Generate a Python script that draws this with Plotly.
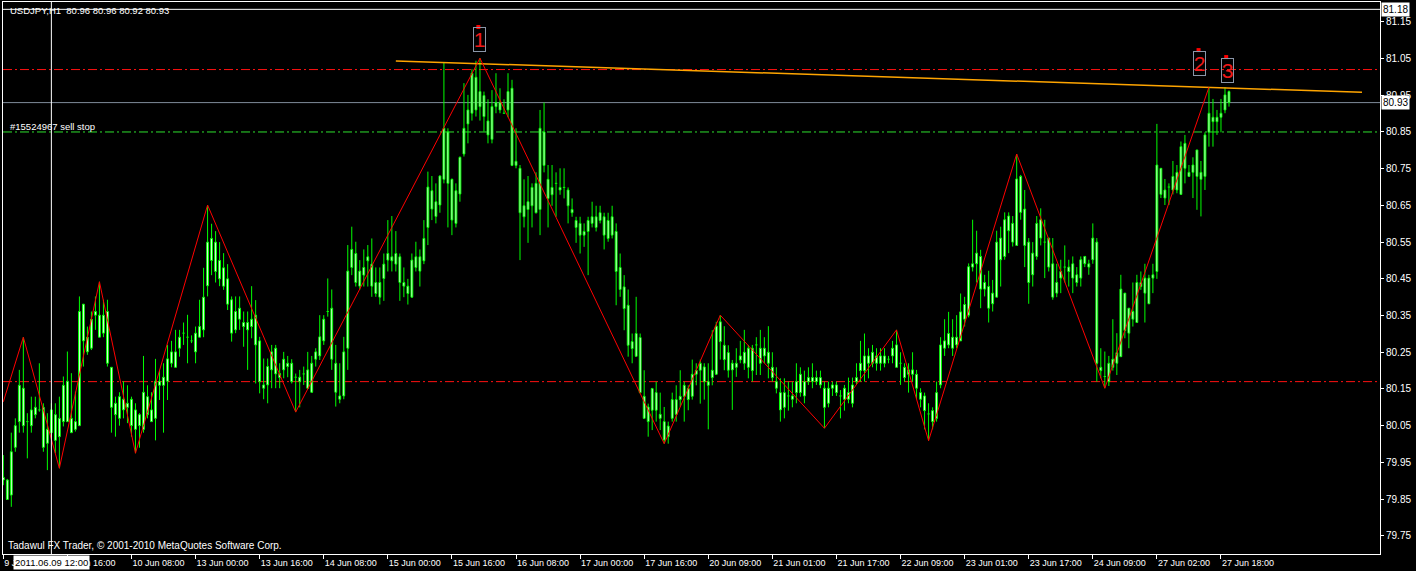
import plotly.graph_objects as go

# ---------------- data (H1 bars, index 0 = 9 Jun 00:00) ----------------
opens = [
 79.902, 79.849, 79.861, 79.991, 80.061, 80.050, 80.061, 80.093, 80.100, 80.093,
 80.100, 80.040, 80.093, 80.080, 80.070, 80.061, 80.061, 80.031, 80.040, 80.050,
 80.281, 80.251, 80.261, 80.351, 80.291, 80.351, 80.361, 80.209, 80.111, 80.129,
 80.122, 80.111, 80.122, 80.093, 80.050, 80.040, 80.080, 80.061, 80.070, 80.160,
 80.160, 80.171, 80.220, 80.209, 80.261, 80.302, 80.291, 80.281, 80.251, 80.291,
 80.311, 80.431, 80.560, 80.550, 80.500, 80.480, 80.450, 80.393, 80.361, 80.370,
 80.331, 80.331, 80.340, 80.351, 80.281, 80.161, 80.211, 80.251, 80.261, 80.192,
 80.231, 80.220, 80.220, 80.182, 80.170, 80.191, 80.152, 80.141, 80.231, 80.240,
 80.281, 80.361, 80.231, 80.141, 80.122, 80.131, 80.261, 80.481, 80.440, 80.430,
 80.460, 80.499, 80.430, 80.410, 80.400, 80.451, 80.501, 80.499, 80.490, 80.440,
 80.430, 80.410, 80.400, 80.481, 80.471, 80.499, 80.590, 80.640, 80.620, 80.651,
 80.721, 80.710, 80.610, 80.601, 80.681, 80.790, 80.872, 80.901, 80.910, 80.919,
 80.949, 80.880, 80.919, 80.930, 80.930, 80.901, 80.960, 80.969, 80.770, 80.751,
 80.649, 80.660, 80.699, 80.710, 80.860, 80.850, 80.721, 80.699, 80.710, 80.699,
 80.699, 80.692, 80.639, 80.609, 80.601, 80.579, 80.609, 80.619, 80.619, 80.630,
 80.619, 80.609, 80.619, 80.579, 80.481, 80.428, 80.378, 80.279, 80.301, 80.290,
 80.130, 80.101, 80.151, 80.140, 80.081, 80.061, 80.020, 80.070, 80.081, 80.121,
 80.130, 80.121, 80.130, 80.190, 80.201, 80.170, 80.160, 80.181, 80.190, 80.279,
 80.269, 80.249, 80.220, 80.220, 80.240, 80.250, 80.261, 80.261, 80.270, 80.261,
 80.261, 80.250, 80.209, 80.170, 80.140, 80.140, 80.131, 80.131, 80.170, 80.190,
 80.170, 80.181, 80.181, 80.181, 80.181, 80.152, 80.111, 80.152, 80.140, 80.131,
 80.122, 80.122, 80.111, 80.170, 80.200, 80.200, 80.220, 80.220, 80.220, 80.220,
 80.220, 80.231, 80.240, 80.209, 80.220, 80.209, 80.202, 80.202, 80.190, 80.140,
 80.131, 80.082, 80.061, 80.070, 80.161, 80.261, 80.270, 80.261, 80.270, 80.281,
 80.340, 80.351, 80.482, 80.491, 80.422, 80.422, 80.370, 80.382, 80.400, 80.502,
 80.511, 80.581, 80.550, 80.541, 80.729, 80.640, 80.550, 80.520, 80.601, 80.611,
 80.550, 80.561, 80.491, 80.440, 80.470, 80.482, 80.482, 80.491, 80.461, 80.502,
 80.511, 80.491, 80.561, 80.550, 80.209, 80.184, 80.170, 80.209, 80.220, 80.238,
 80.309, 80.302, 80.340, 80.331, 80.429, 80.411, 80.382, 80.452, 80.470, 80.680,
 80.670, 80.700, 80.692, 80.692, 80.680, 80.751, 80.729, 80.740, 80.729, 80.721,
 80.729, 80.849, 80.878, 80.878, 80.890, 80.910, 80.960]

highs = [
 79.970, 79.905, 80.031, 80.070, 80.202, 80.291, 80.084, 80.129, 80.129, 80.220,
 80.111, 80.084, 80.111, 80.111, 80.129, 80.184, 80.252, 80.193, 80.143, 80.402,
 80.381, 80.320, 80.361, 80.402, 80.442, 80.393, 80.393, 80.209, 80.129, 80.141,
 80.171, 80.160, 80.129, 80.111, 80.084, 80.240, 80.160, 80.141, 80.232, 80.202,
 80.220, 80.270, 80.281, 80.311, 80.311, 80.331, 80.352, 80.296, 80.320, 80.393,
 80.480, 80.651, 80.600, 80.580, 80.550, 80.520, 80.490, 80.402, 80.402, 80.402,
 80.361, 80.361, 80.430, 80.392, 80.292, 80.233, 80.233, 80.270, 80.270, 80.220,
 80.251, 80.240, 80.231, 80.192, 80.202, 80.211, 80.251, 80.240, 80.261, 80.351,
 80.351, 80.451, 80.421, 80.270, 80.220, 80.292, 80.542, 80.592, 80.551, 80.501,
 80.530, 80.542, 80.560, 80.481, 80.481, 80.519, 80.610, 80.621, 80.580, 80.519,
 80.481, 80.450, 80.519, 80.551, 80.530, 80.610, 80.742, 80.730, 80.710, 80.732,
 81.040, 80.860, 80.723, 80.710, 80.783, 80.983, 80.951, 81.021, 81.044, 81.051,
 80.960, 80.939, 80.964, 81.010, 80.969, 80.939, 81.010, 80.992, 80.860, 80.760,
 80.721, 80.730, 80.710, 80.740, 80.910, 80.930, 80.760, 80.760, 80.740, 80.751,
 80.751, 80.699, 80.669, 80.619, 80.619, 80.601, 80.619, 80.660, 80.649, 80.649,
 80.630, 80.630, 80.649, 80.601, 80.519, 80.460, 80.421, 80.301, 80.401, 80.301,
 80.201, 80.110, 80.153, 80.170, 80.140, 80.101, 80.061, 80.140, 80.160, 80.201,
 80.170, 80.160, 80.230, 80.220, 80.230, 80.220, 80.220, 80.310, 80.333, 80.351,
 80.321, 80.269, 80.229, 80.261, 80.281, 80.311, 80.270, 80.270, 80.291, 80.311,
 80.291, 80.321, 80.250, 80.209, 80.179, 80.179, 80.170, 80.170, 80.220, 80.209,
 80.200, 80.209, 80.220, 80.200, 80.200, 80.170, 80.170, 80.170, 80.170, 80.147,
 80.161, 80.181, 80.181, 80.220, 80.281, 80.301, 80.261, 80.270, 80.261, 80.261,
 80.261, 80.240, 80.281, 80.311, 80.250, 80.220, 80.220, 80.250, 80.202, 80.152,
 80.140, 80.111, 80.100, 80.170, 80.291, 80.340, 80.360, 80.340, 80.351, 80.410,
 80.401, 80.492, 80.611, 80.581, 80.529, 80.461, 80.472, 80.447, 80.581, 80.592,
 80.631, 80.631, 80.621, 80.790, 80.733, 80.692, 80.561, 80.550, 80.621, 80.642,
 80.611, 80.561, 80.561, 80.491, 80.502, 80.541, 80.502, 80.511, 80.482, 80.511,
 80.511, 80.502, 80.601, 80.561, 80.261, 80.252, 80.240, 80.340, 80.302, 80.461,
 80.411, 80.370, 80.440, 80.461, 80.470, 80.491, 80.461, 80.491, 80.872, 80.751,
 80.722, 80.710, 80.771, 80.760, 80.824, 80.842, 80.760, 80.781, 80.801, 80.771,
 80.849, 80.972, 80.940, 80.910, 80.940, 80.972, 80.963]

lows = [
 79.888, 79.848, 79.829, 79.979, 80.031, 80.031, 79.961, 80.031, 80.070, 80.088,
 79.979, 79.929, 80.011, 79.975, 79.934, 80.048, 80.061, 80.030, 80.034, 80.050,
 80.211, 80.243, 80.256, 80.311, 80.291, 80.291, 80.211, 80.031, 80.020, 80.050,
 80.070, 80.057, 80.020, 79.975, 79.990, 80.031, 80.070, 80.061, 80.010, 80.120,
 80.031, 80.120, 80.209, 80.209, 80.238, 80.270, 80.220, 80.275, 80.220, 80.291,
 80.291, 80.402, 80.460, 80.440, 80.430, 80.420, 80.365, 80.279, 80.302, 80.311,
 80.265, 80.202, 80.288, 80.165, 80.138, 80.122, 80.111, 80.152, 80.152, 80.152,
 80.179, 80.182, 80.165, 80.087, 80.100, 80.161, 80.150, 80.139, 80.211, 80.229,
 80.270, 80.347, 80.202, 80.102, 80.111, 80.122, 80.202, 80.460, 80.429, 80.420,
 80.429, 80.429, 80.401, 80.401, 80.380, 80.390, 80.470, 80.470, 80.470, 80.390,
 80.400, 80.380, 80.398, 80.470, 80.429, 80.490, 80.542, 80.610, 80.601, 80.630,
 80.710, 80.590, 80.569, 80.590, 80.660, 80.783, 80.819, 80.881, 80.892, 80.881,
 80.851, 80.819, 80.819, 80.901, 80.901, 80.899, 80.890, 80.757, 80.751, 80.501,
 80.590, 80.548, 80.590, 80.628, 80.569, 80.740, 80.590, 80.649, 80.619, 80.679,
 80.669, 80.601, 80.619, 80.548, 80.519, 80.537, 80.460, 80.590, 80.579, 80.601,
 80.530, 80.551, 80.560, 80.378, 80.401, 80.310, 80.238, 80.220, 80.237, 80.138,
 80.068, 80.020, 80.038, 80.061, 80.038, 80.001, 80.001, 80.061, 80.061, 80.101,
 80.061, 80.092, 80.121, 80.160, 80.110, 80.121, 80.040, 80.160, 80.188, 80.230,
 80.201, 80.181, 80.093, 80.183, 80.220, 80.202, 80.179, 80.170, 80.188, 80.188,
 80.220, 80.179, 80.170, 80.138, 80.061, 80.070, 80.091, 80.100, 80.111, 80.129,
 80.111, 80.161, 80.152, 80.161, 80.152, 80.043, 80.100, 80.131, 80.131, 80.070,
 80.091, 80.111, 80.100, 80.161, 80.170, 80.170, 80.179, 80.209, 80.200, 80.200,
 80.209, 80.220, 80.220, 80.209, 80.161, 80.170, 80.140, 80.170, 80.122, 80.100,
 80.040, 80.009, 80.040, 80.061, 80.152, 80.240, 80.261, 80.240, 80.261, 80.281,
 80.320, 80.345, 80.470, 80.440, 80.370, 80.402, 80.331, 80.361, 80.400, 80.429,
 80.502, 80.520, 80.538, 80.541, 80.611, 80.482, 80.382, 80.429, 80.502, 80.541,
 80.452, 80.470, 80.393, 80.400, 80.411, 80.440, 80.429, 80.411, 80.429, 80.429,
 80.482, 80.461, 80.491, 80.170, 80.179, 80.152, 80.158, 80.200, 80.188, 80.238,
 80.288, 80.261, 80.320, 80.331, 80.420, 80.331, 80.382, 80.411, 80.450, 80.670,
 80.651, 80.651, 80.680, 80.683, 80.680, 80.710, 80.729, 80.670, 80.638, 80.620,
 80.692, 80.810, 80.810, 80.842, 80.849, 80.901, 80.919]

closes = [
 79.909, 79.902, 79.979, 80.050, 80.160, 80.152, 80.061, 80.050, 80.080, 80.093,
 79.991, 80.002, 80.031, 80.010, 80.020, 80.160, 80.171, 80.070, 80.061, 80.361,
 80.381, 80.291, 80.340, 80.361, 80.351, 80.302, 80.220, 80.100, 80.080, 80.070,
 80.093, 80.100, 80.050, 80.040, 80.080, 80.141, 80.129, 80.093, 80.171, 80.171,
 80.182, 80.232, 80.251, 80.251, 80.291, 80.302, 80.291, 80.281, 80.302, 80.320,
 80.400, 80.550, 80.500, 80.470, 80.450, 80.430, 80.381, 80.302, 80.311, 80.340,
 80.320, 80.311, 80.320, 80.270, 80.170, 80.152, 80.161, 80.202, 80.191, 80.181,
 80.202, 80.211, 80.170, 80.182, 80.182, 80.191, 80.202, 80.220, 80.251, 80.292,
 80.340, 80.361, 80.370, 80.220, 80.131, 80.251, 80.471, 80.530, 80.519, 80.471,
 80.481, 80.510, 80.490, 80.440, 80.440, 80.490, 80.519, 80.510, 80.519, 80.510,
 80.440, 80.430, 80.501, 80.510, 80.510, 80.560, 80.700, 80.690, 80.660, 80.730,
 80.860, 80.850, 80.721, 80.690, 80.781, 80.860, 80.910, 81.010, 80.999, 80.960,
 80.892, 80.842, 80.830, 80.919, 80.910, 80.901, 80.910, 80.759, 80.759, 80.630,
 80.619, 80.639, 80.649, 80.630, 80.639, 80.759, 80.669, 80.679, 80.710, 80.692,
 80.699, 80.649, 80.630, 80.590, 80.569, 80.569, 80.579, 80.601, 80.590, 80.609,
 80.569, 80.560, 80.569, 80.470, 80.421, 80.369, 80.269, 80.260, 80.239, 80.140,
 80.070, 80.061, 80.092, 80.092, 80.070, 80.011, 80.049, 80.121, 80.121, 80.130,
 80.160, 80.151, 80.190, 80.201, 80.220, 80.210, 80.170, 80.201, 80.321, 80.333,
 80.230, 80.201, 80.202, 80.209, 80.229, 80.220, 80.209, 80.200, 80.270, 80.220,
 80.240, 80.220, 80.181, 80.152, 80.093, 80.100, 80.131, 80.122, 80.140, 80.140,
 80.131, 80.170, 80.170, 80.170, 80.161, 80.100, 80.152, 80.161, 80.161, 80.131,
 80.152, 80.140, 80.161, 80.181, 80.220, 80.240, 80.240, 80.250, 80.240, 80.240,
 80.240, 80.231, 80.261, 80.270, 80.220, 80.181, 80.190, 80.190, 80.152, 80.122,
 80.091, 80.082, 80.091, 80.140, 80.270, 80.281, 80.301, 80.291, 80.291, 80.360,
 80.380, 80.483, 80.491, 80.520, 80.511, 80.440, 80.429, 80.411, 80.550, 80.561,
 80.611, 80.621, 80.601, 80.722, 80.631, 80.541, 80.440, 80.461, 80.511, 80.561,
 80.550, 80.482, 80.400, 80.411, 80.452, 80.482, 80.470, 80.452, 80.440, 80.452,
 80.491, 80.482, 80.502, 80.220, 80.200, 80.184, 80.220, 80.231, 80.249, 80.422,
 80.411, 80.370, 80.361, 80.440, 80.440, 80.452, 80.452, 80.461, 80.760, 80.751,
 80.692, 80.700, 80.729, 80.740, 80.810, 80.819, 80.740, 80.760, 80.801, 80.740,
 80.842, 80.901, 80.890, 80.890, 80.901, 80.951, 80.930]

# ZigZag vertices (bar index, price)
zz_bar = [0, 5, 14, 24, 33, 51, 73, 119, 165, 179, 205, 223, 231, 253, 275, 301]
zz_price = [80.115, 80.291, 79.934, 80.442, 79.975, 80.651, 80.087, 81.051,
            80.001, 80.351, 80.043, 80.311, 80.009, 80.790, 80.152, 80.972]

# Trend line (orange)
trend_bar = [98, 339.2]
trend_price = [81.0435, 80.958]

# Horizontal levels
alert_levels = [81.02, 80.17]
sell_stop_level = 80.85
bid_price = 80.93
cross_bar = 12
cross_price = 81.184

# Text labels 1/2/3
lbl_text = ["1", "2", "3"]
lbl_bar = [118.9, 298.6, 305.6]
lbl_price = [81.101, 81.037, 81.018]
lbl_dot_bar = [118.6, 298.4, 305.3]
lbl_dot_price = [81.136, 81.073, 81.054]

# Axis ticks
tick_bars = list(range(0, 305, 16))
tick_labels = ["9 Jun 00:00", "9 Jun 16:00", "10 Jun 08:00", "13 Jun 00:00", "13 Jun 16:00",
               "14 Jun 08:00", "15 Jun 00:00", "15 Jun 16:00", "16 Jun 08:00", "17 Jun 00:00",
               "17 Jun 16:00", "20 Jun 09:00", "21 Jun 01:00", "21 Jun 17:00", "22 Jun 09:00",
               "23 Jun 01:00", "23 Jun 17:00", "24 Jun 09:00", "27 Jun 02:00", "27 Jun 18:00"]
price_ticks = [79.75, 79.85, 79.95, 80.05, 80.15, 80.25, 80.35, 80.45, 80.55, 80.65,
               80.75, 80.85, 80.95, 81.05, 81.15]

# ---------------- build figure ----------------
GREEN = "#00FF00"
FONT = "Liberation Sans, Arial, sans-serif"

bx, bbase, bh = [], [], []
dx, dy = [], []
wx, wy = [], []
for j, (o, h, l, c) in enumerate(zip(opens, highs, lows, closes)):
    top, bot = max(o, c), min(o, c)
    if top - bot < 0.003:
        dx += [j - 0.3, j + 0.3, None]
        dy += [c, c, None]
    else:
        bx.append(j)
        bbase.append(bot)
        bh.append(top - bot)
    if h > top:
        wx += [j, j, None]
        wy += [top, h, None]
    if l < bot:
        wx += [j, j, None]
        wy += [bot, l, None]

fig = go.Figure()
fig.add_trace(go.Bar(x=bx, y=bh, base=bbase, width=0.45,
                     marker=dict(color="white", line=dict(color=GREEN, width=1)),
                     hoverinfo="skip"))
fig.add_trace(go.Scatter(x=wx, y=wy, mode="lines", line=dict(color=GREEN, width=1),
                         hoverinfo="skip"))
fig.add_trace(go.Scatter(x=dx, y=dy, mode="lines", line=dict(color=GREEN, width=1),
                         hoverinfo="skip"))
fig.add_trace(go.Scatter(x=trend_bar, y=trend_price, mode="lines",
                         line=dict(color="#FFA500", width=1.5), hoverinfo="skip"))
fig.add_trace(go.Scatter(x=zz_bar, y=zz_price, mode="lines",
                         line=dict(color="#FF0000", width=1), hoverinfo="skip"))
fig.add_trace(go.Scatter(x=lbl_dot_bar, y=lbl_dot_price, mode="markers",
                         marker=dict(symbol="square", size=4, color="#FF0000"),
                         hoverinfo="skip"))

shapes = []
for lv in alert_levels:
    shapes.append(dict(type="line", xref="paper", x0=0, x1=1, yref="y", y0=lv, y1=lv,
                       line=dict(color="#FF1010", width=1, dash="9px,3px,2px,3px"), layer="below"))
shapes.append(dict(type="line", xref="paper", x0=0, x1=1, yref="y", y0=sell_stop_level,
                   y1=sell_stop_level,
                   line=dict(color="#2EE02E", width=1, dash="9px,3px,2px,3px"), layer="below"))
shapes.append(dict(type="line", xref="paper", x0=0, x1=1, yref="y", y0=bid_price, y1=bid_price,
                   line=dict(color="#7F8C9A", width=1), layer="below"))
shapes.append(dict(type="line", xref="paper", x0=0, x1=1, yref="y", y0=cross_price, y1=cross_price,
                   line=dict(color="white", width=1)))
shapes.append(dict(type="line", xref="x", x0=cross_bar, x1=cross_bar, yref="paper", y0=0, y1=1,
                   line=dict(color="white", width=1)))

ann = []
ann.append(dict(text="USDJPY,H1\u00a0\u00a080.96 80.96 80.92 80.93", xref="paper", yref="paper",
                x=0.0036, y=0.9855, xanchor="left", yanchor="middle", showarrow=False,
                font=dict(family=FONT, size=9.5, color="white")))
ann.append(dict(text="#15524967 sell stop", xref="paper", yref="y", x=0.0036, y=80.864,
                xanchor="left", yanchor="middle", showarrow=False,
                font=dict(family=FONT, size=9.5, color="white")))
ann.append(dict(text="Tadawul FX Trader, \u00a9 2001-2010 MetaQuotes Software Corp.",
                xref="paper", yref="paper", x=0.002, y=0.0163, xanchor="left", yanchor="middle",
                showarrow=False, font=dict(family=FONT, size=10, color="white")))
ann.append(dict(text="2011.06.09 12:00", xref="x", yref="paper", x=cross_bar, y=-0.0163,
                xanchor="center", yanchor="middle", showarrow=False, bgcolor="white",
                borderpad=1, font=dict(family=FONT, size=9.5, color="black")))
ann.append(dict(text="%.2f" % cross_price, xref="paper", yref="y", x=1.0008, y=cross_price,
                xanchor="left", yanchor="middle", showarrow=False, bgcolor="white",
                borderpad=1, font=dict(family=FONT, size=10, color="black")))
ann.append(dict(text="%.2f" % bid_price, xref="paper", yref="y", x=1.0008, y=bid_price,
                xanchor="left", yanchor="middle", showarrow=False, bgcolor="white",
                borderpad=1, font=dict(family=FONT, size=10, color="black")))
for t, b, p in zip(lbl_text, lbl_bar, lbl_price):
    ann.append(dict(text=t, xref="x", yref="y", x=b, y=p, xanchor="center", yanchor="middle",
                    showarrow=False, width=11, height=23, bordercolor="#8A96A8", borderwidth=1,
                    borderpad=0, font=dict(family=FONT, size=21, color="#F01818")))

fig.update_layout(
    width=1416, height=571,
    margin=dict(l=3, r=36, t=2, b=17, autoexpand=False),
    paper_bgcolor="black", plot_bgcolor="black",
    showlegend=False, shapes=shapes, annotations=ann,
    xaxis=dict(range=[-0.075, 343.7], showgrid=False, zeroline=False,
               showline=True, linecolor="white", linewidth=1, mirror=True,
               ticks="outside", ticklen=4, tickcolor="white",
               tickmode="array", tickvals=tick_bars, ticktext=tick_labels,
               ticklabelposition="outside right", automargin=False,
               tickfont=dict(family=FONT, size=9, color="white")),
    yaxis=dict(range=[79.7005, 81.204], side="right", showgrid=False, zeroline=False,
               showline=True, linecolor="white", linewidth=1, mirror=True,
               ticks="outside", ticklen=3, tickcolor="white", automargin=False,
               tickmode="array", tickvals=price_ticks,
               ticktext=["%.2f" % v for v in price_ticks],
               tickfont=dict(family=FONT, size=10, color="white")),
)

fig.write_html("out.html", config={"displayModeBar": False},
               post_script="document.body.style.margin='0px';document.body.style.overflow='hidden';")
